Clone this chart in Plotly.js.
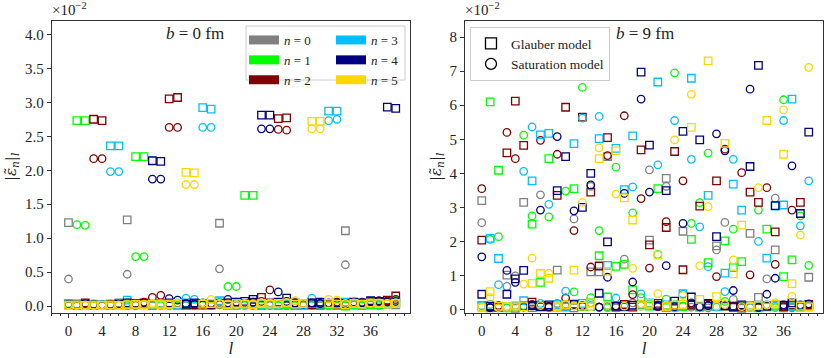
<!DOCTYPE html>
<html>
<head>
<meta charset="utf-8">
<script src="https://cdn.plot.ly/plotly-3.0.1.min.js"></script>
<style>
  html, body { margin: 0; padding: 0; background: #fff; }
  #plot { width: 831px; height: 358px; }
</style>
</head>
<body>
<div id="plot"></div>
<script>
var ell = [0,1,2,3,4,5,6,7,8,9,10,11,12,13,14,15,16,17,18,19,20,21,22,23,24,25,26,27,28,29,30,31,32,33,34,35,36,37,38,39];

// b = 0 fm, values in units of 1e-2
var b0_glauber_n0 = [1.23,0.01,0.02,0.01,0.02,0.03,0.05,1.27,0.02,0.03,0.01,0.02,0.03,0.02,0.01,0.02,0.03,0.02,1.22,0.01,0.02,0.03,0.02,0.01,0.02,0.03,0.02,0.01,0.03,0.02,0.01,0.02,0.01,1.11,0.02,0.03,0.02,0.04,0.03,0.02];
var b0_satur_n0   = [0.40,0.01,0.02,0.01,0.01,0.02,0.03,0.47,0.01,0.02,0.01,0.02,0.01,0.02,0.01,0.01,0.02,0.01,0.55,0.02,0.01,0.02,0.01,0.02,0.01,0.02,0.01,0.02,0.01,0.02,0.01,0.02,0.01,0.61,0.02,0.01,0.03,0.02,0.04,0.03];
var b0_glauber_n1 = [0.04,2.73,2.73,0.02,0.01,0.03,0.02,0.03,2.20,2.20,0.02,0.03,0.02,0.01,0.03,0.02,0.01,0.02,0.03,0.01,0.02,1.63,1.63,0.02,0.03,0.01,0.02,0.03,0.01,0.02,0.03,0.02,0.01,0.00,0.02,0.01,0.03,0.02,0.06,0.05];
var b0_satur_n1   = [0.02,1.20,1.19,0.01,0.02,0.01,0.02,0.01,0.73,0.73,0.02,0.01,0.02,0.01,0.02,0.01,0.02,0.01,0.02,0.29,0.29,0.01,0.02,0.01,0.02,0.01,0.02,0.01,0.02,0.01,0.02,0.01,0.02,0.01,0.02,0.01,0.02,0.01,0.07,0.09];
var b0_glauber_n2 = [0.02,0.03,0.05,2.75,2.73,0.02,0.03,0.02,0.04,0.05,0.03,0.04,3.05,3.07,0.03,0.02,0.03,0.02,0.04,0.03,0.05,0.04,0.06,0.13,0.05,2.76,2.77,0.03,0.04,0.02,0.03,0.04,0.03,0.02,0.05,0.04,0.06,0.05,0.09,0.15];
var b0_satur_n2   = [0.03,0.02,0.04,2.17,2.17,0.03,0.02,0.03,0.04,0.06,0.13,0.16,2.63,2.63,0.04,0.03,0.02,0.04,0.03,0.05,0.06,0.04,0.05,0.07,0.24,2.60,2.59,0.05,0.04,0.03,0.05,0.04,0.06,0.03,0.05,0.06,0.07,0.06,0.08,0.10];
var b0_glauber_n3 = [0.02,0.03,0.02,0.03,0.02,2.36,2.36,0.09,0.03,0.02,0.03,0.04,0.03,0.02,0.05,0.04,2.92,2.90,0.08,0.03,0.02,0.03,0.04,0.03,0.02,0.03,0.04,0.03,0.02,0.04,0.03,2.87,2.87,0.06,0.04,0.03,0.05,0.04,0.03,0.05];
var b0_satur_n3   = [0.01,0.02,0.03,0.02,0.01,1.98,1.98,0.05,0.02,0.03,0.02,0.03,0.04,0.05,0.12,0.10,2.63,2.63,0.06,0.04,0.03,0.02,0.03,0.04,0.05,0.03,0.04,0.02,0.03,0.12,0.06,2.73,2.75,0.04,0.03,0.05,0.04,0.03,0.05,0.06];
var b0_glauber_n4 = [0.01,0.02,0.03,0.02,0.01,0.02,0.03,0.05,0.04,0.03,2.14,2.13,0.05,0.04,0.03,0.05,0.04,0.03,0.04,0.05,0.06,0.07,0.10,2.81,2.81,0.06,0.12,0.05,0.04,0.05,0.06,0.04,0.05,0.04,0.06,0.05,0.08,0.07,2.93,2.91];
var b0_satur_n4   = [0.02,0.01,0.02,0.03,0.02,0.01,0.02,0.03,0.02,0.04,1.87,1.87,0.11,0.09,0.04,0.03,0.05,0.04,0.03,0.10,0.05,0.04,0.06,2.61,2.61,0.21,0.07,0.04,0.03,0.05,0.04,0.05,0.03,0.04,0.06,0.05,0.07,0.08,0.06,0.07];
var b0_glauber_n5 = [0.01,0.02,0.01,0.02,0.01,0.02,0.01,0.02,0.03,0.02,0.03,0.02,0.03,0.04,1.97,1.96,0.03,0.04,0.03,0.02,0.04,0.03,0.02,0.04,0.03,0.04,0.05,0.03,0.04,2.72,2.72,0.04,0.03,0.02,0.04,0.03,0.05,0.04,0.03,0.04];
var b0_satur_n5   = [0.02,0.01,0.02,0.01,0.02,0.01,0.02,0.03,0.02,0.03,0.04,0.03,0.02,0.03,1.79,1.79,0.05,0.10,0.04,0.03,0.02,0.04,0.03,0.05,0.04,0.03,0.05,0.08,0.04,2.61,2.61,0.10,0.09,0.04,0.05,0.03,0.04,0.05,0.04,0.05];

// b = 9 fm, values in units of 1e-2
var b9_glauber_n0 = [3.20,0.05,0.08,1.01,0.04,3.15,0.06,0.12,0.07,1.16,0.10,0.05,0.09,1.11,1.11,4.49,0.06,0.08,0.12,0.15,2.04,0.11,3.85,0.08,2.30,0.13,0.07,0.10,1.87,0.09,0.06,0.04,2.24,0.36,0.08,1.75,0.05,0.10,0.07,0.95];
var b9_satur_n0   = [2.55,0.08,0.05,0.68,0.99,0.07,0.10,3.37,0.06,0.18,0.09,2.66,0.12,3.62,0.07,0.09,0.05,1.48,0.20,0.11,4.10,0.08,3.62,0.06,0.10,0.07,0.09,0.05,1.75,2.56,0.30,0.08,0.06,0.10,0.90,3.27,0.07,0.05,0.09,0.08];
var b9_glauber_n1 = [0.10,6.10,4.09,0.05,0.08,0.12,2.51,0.80,4.43,0.07,0.15,3.55,0.09,0.20,1.58,0.37,1.27,1.33,0.58,0.12,0.10,3.55,0.06,0.14,0.09,2.06,0.08,1.38,0.11,2.02,1.23,1.41,0.07,0.05,2.36,0.13,0.97,1.46,0.10,0.08];
var b9_satur_n1   = [0.08,2.06,2.14,0.05,0.10,5.12,2.75,0.12,2.72,0.07,3.48,0.52,6.52,0.35,2.32,0.06,4.18,0.09,2.84,0.35,0.12,1.62,0.31,6.95,0.10,2.53,3.14,4.59,0.07,0.24,2.36,0.11,0.08,2.92,0.14,0.06,6.16,0.09,2.75,1.30];
var b9_glauber_n2 = [2.04,0.10,0.08,4.60,6.12,4.82,0.22,0.12,0.09,3.35,5.94,0.14,5.65,3.45,1.28,5.05,0.10,0.15,0.07,4.69,1.90,0.18,2.41,4.64,1.17,0.13,3.04,0.16,3.78,0.12,0.10,0.08,3.45,3.15,0.11,2.28,0.09,0.14,3.15,0.15];
var b9_satur_n2   = [3.55,0.06,0.12,5.20,4.43,0.09,0.15,4.97,0.08,4.56,0.34,2.32,0.10,1.25,0.07,4.52,0.11,5.69,0.44,3.26,1.22,0.09,2.58,0.13,3.78,0.20,0.08,0.12,0.97,4.71,0.10,4.02,1.02,0.06,3.58,1.33,0.09,2.92,0.14,0.11];
var b9_glauber_n3 = [0.12,2.09,1.50,0.08,0.10,0.26,3.78,5.13,5.17,0.15,0.07,4.87,0.18,0.09,5.02,1.30,4.73,3.52,5.10,0.11,0.20,6.68,0.14,0.08,0.47,6.79,0.10,3.35,0.09,1.07,3.68,2.92,0.12,0.10,1.51,3.04,3.07,6.18,0.13,0.11];
var b9_satur_n3   = [0.10,0.15,0.73,0.07,0.12,4.06,5.36,0.18,3.09,0.09,0.54,0.11,5.62,0.20,5.67,0.13,0.34,0.08,3.60,0.46,0.16,4.25,0.10,5.55,0.45,4.41,2.43,1.26,0.09,0.53,4.41,0.12,0.07,2.00,0.14,0.10,5.55,0.08,2.46,3.78];
var b9_glauber_n4 = [0.45,0.10,0.07,0.45,0.90,1.15,0.12,0.08,0.14,3.49,4.49,0.16,3.00,4.00,0.48,1.99,0.10,0.09,0.13,6.97,4.83,0.11,3.49,0.25,5.23,0.37,4.98,0.18,2.14,0.12,0.08,0.14,4.20,7.17,0.10,3.05,0.13,0.20,2.82,5.21];
var b9_satur_n4   = [1.55,0.06,0.10,1.15,0.80,0.08,0.12,2.92,0.09,5.08,0.15,2.90,0.11,3.66,0.07,0.95,0.10,3.41,0.81,6.18,3.45,0.13,1.29,0.09,2.53,0.16,0.08,0.12,5.16,4.66,0.56,0.10,6.47,0.07,0.45,0.92,0.14,4.22,0.11,0.17];
var b9_glauber_n5 = [0.05,0.53,0.10,0.07,0.12,0.09,0.77,1.06,0.92,0.08,0.14,1.16,0.10,0.20,4.43,1.12,4.66,3.28,2.63,0.11,0.18,1.60,0.09,0.13,0.15,5.35,0.30,7.30,0.38,4.88,1.05,2.48,0.07,0.12,5.55,0.16,4.56,0.76,0.10,0.08];
var b9_satur_n5   = [0.08,0.35,0.06,0.10,0.07,0.75,1.51,0.12,1.07,0.09,0.15,0.11,3.15,0.08,4.75,0.13,3.39,0.10,1.21,0.17,0.14,0.47,0.12,4.98,0.41,6.32,1.29,3.02,0.10,0.15,1.46,0.09,0.11,3.58,0.13,0.20,5.86,0.39,2.19,7.11];

var nLabels = ['<i>n</i> = 0', '<i>n</i> = 1', '<i>n</i> = 2', '<i>n</i> = 3', '<i>n</i> = 4', '<i>n</i> = 5'];
var nColors = ['#808080', '#00ff00', '#800000', '#00bfff', '#000080', '#ffd700'];
var modelLabels = ['Glauber model', 'Saturation model'];
var xTicks = [0,4,8,12,16,20,24,28,32,36];

var b0G = [b0_glauber_n0, b0_glauber_n1, b0_glauber_n2, b0_glauber_n3, b0_glauber_n4, b0_glauber_n5];
var b0S = [b0_satur_n0, b0_satur_n1, b0_satur_n2, b0_satur_n3, b0_satur_n4, b0_satur_n5];
var b9G = [b9_glauber_n0, b9_glauber_n1, b9_glauber_n2, b9_glauber_n3, b9_glauber_n4, b9_glauber_n5];
var b9S = [b9_satur_n0, b9_satur_n1, b9_satur_n2, b9_satur_n3, b9_satur_n4, b9_satur_n5];

var W = 831, H = 358;
function px(x) { return x / W; }
function py(y) { return 1 - y / H; }

function pts(yv, n, sym, xa, ya) {
  return {
    x: ell, y: yv, type: 'scatter', mode: 'markers', xaxis: xa, yaxis: ya,
    showlegend: false, hoverinfo: 'skip',
    marker: { symbol: sym, size: 7.5, color: nColors[n], line: { width: 1.3 } }
  };
}

var data = [];
for (var n = 0; n < 6; n++) {
  data.push(pts(b0G[n], n, 'square-open', 'x', 'y'));
  data.push(pts(b0S[n], n, 'circle-open', 'x', 'y'));
  data.push(pts(b9G[n], n, 'square-open', 'x2', 'y2'));
  data.push(pts(b9S[n], n, 'circle-open', 'x2', 'y2'));
}
// legend patches for n
for (var n = 0; n < 6; n++) {
  data.push({
    x: [null], y: [null], type: 'scatter', mode: 'lines', xaxis: 'x', yaxis: 'y',
    name: nLabels[n], legend: n < 3 ? 'legend' : 'legend3',
    line: { color: nColors[n], width: 9 }
  });
}
// legend markers for models
data.push({ x: [null], y: [null], type: 'scatter', mode: 'markers', xaxis: 'x2', yaxis: 'y2',
  name: modelLabels[0], legend: 'legend2',
  marker: { symbol: 'square-open', size: 11, color: '#000', line: { width: 1.3 } } });
data.push({ x: [null], y: [null], type: 'scatter', mode: 'markers', xaxis: 'x2', yaxis: 'y2',
  name: modelLabels[1], legend: 'legend2',
  marker: { symbol: 'circle-open', size: 11, color: '#000', line: { width: 1.3 } } });

var serif = '"Liberation Serif", "DejaVu Serif", serif';

function xax(dom, anchor) {
  return {
    domain: dom, anchor: anchor, range: [-2, 40.7],
    tickmode: 'array', tickvals: xTicks,
    ticks: 'outside', ticklen: 4, tickwidth: 1, tickcolor: '#333',
    showline: true, mirror: true, linecolor: '#333', linewidth: 1,
    showgrid: false, zeroline: false,
    minor: { tickmode: 'linear', tick0: 0, dtick: 1, ticks: 'outside', ticklen: 2, tickcolor: '#333', showgrid: false },
    tickfont: { family: serif, size: 15 },
    title: { text: '<i>l</i>', font: { family: serif, size: 17 }, standoff: 0 }
  };
}
function yax(dom, anchor, range, dtick, fmt) {
  return {
    domain: dom, anchor: anchor, range: range,
    tick0: 0, dtick: dtick, tickformat: fmt,
    ticks: 'outside', ticklen: 4, tickwidth: 1, tickcolor: '#333',
    showline: true, mirror: true, linecolor: '#333', linewidth: 1,
    showgrid: false, zeroline: false,
    tickfont: { family: serif, size: 15 },
    title: { text: '|<i>ε̃</i><sub><i>n</i></sub>|<sub><i>l</i></sub>',
             font: { family: '"DejaVu Serif", serif', size: 15 }, standoff: 4 }
  };
}

var yDom = [py(313), py(20.7)];
var layout = {
  width: W, height: H,
  margin: { l: 0, r: 0, t: 0, b: 0 },
  paper_bgcolor: '#fff', plot_bgcolor: '#fff',
  font: { family: serif, size: 13, color: '#222' },
  xaxis: xax([px(51.7), px(410)], 'y'),
  yaxis: yax(yDom, 'x', [-0.1, 4.2], 0.5, '.1f'),
  xaxis2: xax([px(465), px(823)], 'y2'),
  yaxis2: yax(yDom, 'x2', [-0.1, 8.48], 1, 'd'),
  legend: { x: px(244), y: py(25), xanchor: 'left', yanchor: 'top', bgcolor: 'rgba(0,0,0,0)', borderwidth: 0, font: { size: 13 } },
  legend3: { x: px(331), y: py(25), xanchor: 'left', yanchor: 'top', bgcolor: 'rgba(0,0,0,0)', borderwidth: 0, font: { size: 13 } },
  legend2: { x: px(470), y: py(27), xanchor: 'left', yanchor: 'top', bgcolor: '#fff', bordercolor: '#ccc', borderwidth: 1, font: { size: 13.5 } },
  shapes: [
    { type: 'rect', xref: 'paper', yref: 'paper', x0: px(246), x1: px(405), y0: py(80), y1: py(26),
      line: { color: '#ccc', width: 1 }, fillcolor: '#fff', layer: 'above' }
  ],
  annotations: [
    { text: '<i>b</i> = 0 fm', xref: 'paper', yref: 'paper', x: px(195), y: py(34), xanchor: 'center', yanchor: 'middle', showarrow: false, font: { size: 17 } },
    { text: '<i>b</i> = 9 fm', xref: 'paper', yref: 'paper', x: px(645), y: py(34), xanchor: 'center', yanchor: 'middle', showarrow: false, font: { size: 17 } },
    { text: '×10<sup>−2</sup>', xref: 'paper', yref: 'paper', x: px(50), y: py(20), xanchor: 'left', yanchor: 'bottom', showarrow: false, font: { size: 15 } },
    { text: '×10<sup>−2</sup>', xref: 'paper', yref: 'paper', x: px(463), y: py(20), xanchor: 'left', yanchor: 'bottom', showarrow: false, font: { size: 15 } }
  ]
};

Plotly.newPlot('plot', data, layout, { staticPlot: true });
</script>
</body>
</html>
